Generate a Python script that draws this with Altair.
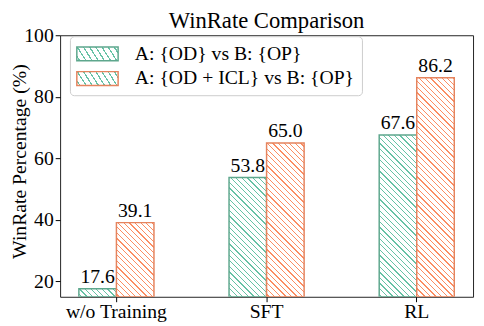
import json
import altair as alt
import pandas as pd

# ---- data ----
categories = ["w/o Training", "SFT", "RL"]
series_names = ["A: {OD} vs B: {OP}", "A: {OD + ICL} vs B: {OP}"]
od_values = [17.6, 53.8, 67.6]
odicl_values = [39.1, 65.0, 86.2]
y_ticks = [20, 40, 60, 80, 100]

# ---- style ----
hatch_colors = ["#66c2a5", "#fc8d62"]
edge_colors = ["#5ea78d", "#e5845e"]
FONT = "Liberation Serif"
W, H = 420, 266
Y_MIN, Y_MAX = 15, 100
PAD_INNER, PAD_OUTER = 0.5, 0.125

rows = []
for s, vals in zip(series_names, [od_values, odicl_values]):
    for c, v in zip(categories, vals):
        rows.append({"category": c, "series": s, "value": v, "label": f"{v:.1f}"})
df = pd.DataFrame(rows)

step = W / (len(categories) - PAD_INNER + 2 * PAD_OUTER)
bar_w = step * (1 - PAD_INNER) / len(series_names)


def hatch(w, h, color, period=5.7, lw=1.3):
    """Diagonal '\\' hatch as a bounding-box linear gradient."""
    L = w + h
    d = w * w + h * h
    x2 = w * L / d
    y2 = 1 - h * L / d
    stops = [{"offset": 0, "color": "white"}]
    c = period / 2
    while c - lw / 2 < L:
        a = round(max(0.0, (c - lw / 2) / L), 5)
        b = round(min(1.0, (c + lw / 2) / L), 5)
        stops += [
            {"offset": a, "color": "white"},
            {"offset": a, "color": color},
            {"offset": b, "color": color},
            {"offset": b, "color": "white"},
        ]
        c += period
    stops.append({"offset": 1, "color": "white"})
    return {"gradient": "linear", "x1": 0, "y1": 1, "x2": round(x2, 5), "y2": round(y2, 5), "stops": stops}


x_enc = alt.X(
    "category:N",
    sort=categories,
    scale=alt.Scale(paddingInner=PAD_INNER, paddingOuter=PAD_OUTER),
    axis=alt.Axis(
        title=None, labelAngle=0, labelFont=FONT, labelFontSize=20, labelColor="black",
        tickSize=5, tickColor="black", labelPadding=0, domain=False, grid=False,
    ),
)
xo_enc = alt.XOffset("series:N", sort=series_names, scale=alt.Scale(paddingInner=0, paddingOuter=0))
y_enc = alt.Y(
    "value:Q",
    scale=alt.Scale(domain=[Y_MIN, Y_MAX], nice=False, zero=False),
    axis=alt.Axis(
        values=y_ticks, format="d", title="WinRate Percentage (%)",
        titleFont=FONT, titleFontSize=20, titleFontWeight="normal", titleColor="black",
        titleX=-35.5, titleY=128, titleAngle=270, titleBaseline="alphabetic", titleAlign="center",
        labelFont=FONT, labelFontSize=20, labelColor="black", labelPadding=2,
        tickSize=5, tickColor="black", domain=False, grid=False,
    ),
)

# legend swatch: 42 x 14 box, hatched via an expression returning a gradient
sw_w, sw_h = 42, 14
legend_fill_expr = (
    f"datum.value === '{series_names[0]}' ? "
    f"{json.dumps(hatch(sw_w, sw_h, hatch_colors[0]))} : "
    f"{json.dumps(hatch(sw_w, sw_h, hatch_colors[1]))}"
)

stroke_enc = alt.Stroke(
    "series:N",
    sort=series_names,
    scale=alt.Scale(domain=series_names, range=edge_colors),
    legend=alt.Legend(
        title=None, orient="none", legendX=10, legendY=1,
        symbolType="M-2.1,-0.7L2.1,-0.7L2.1,0.7L-2.1,0.7Z",
        symbolSize=400, symbolStrokeWidth=1.5, symbolOffset=10,
        symbolFillColor=alt.ExprRef(expr=legend_fill_expr),
        labelOffset=27, labelFont=FONT, labelFontSize=20, labelColor="black", labelLimit=0,
        rowPadding=4, padding=7, fillColor="white", strokeColor="#cccccc", cornerRadius=4,
    ),
)

base = alt.Chart(df)
layers = []
for si, s in enumerate(series_names):
    for c, v in zip(categories, [od_values, odicl_values][si]):
        h = (v - Y_MIN) / (Y_MAX - Y_MIN) * H
        layers.append(
            base.transform_filter(
                (alt.datum.series == s) & (alt.datum.category == c)
            ).mark_bar(
                fill=hatch(bar_w, h, hatch_colors[si]), strokeWidth=1.5, clip=True
            ).encode(
                x=x_enc, xOffset=xo_enc, y=y_enc, y2=alt.Y2(datum=Y_MIN), stroke=stroke_enc
            )
        )

labels = base.mark_text(
    font=FONT, fontSize=20, color="black", baseline="alphabetic", dy=-6
).encode(x=x_enc, xOffset=xo_enc, y=y_enc, text="label:N")

chart = alt.layer(*layers, labels).properties(
    width=W,
    height=H,
    title=alt.TitleParams(
        "WinRate Comparison", font=FONT, fontSize=23, fontWeight="normal", color="black",
        anchor="middle", frame="group", baseline="alphabetic", offset=5, dy=31,
    ),
    autosize=alt.AutoSizeParams(type="none"),
    padding={"left": 53, "top": 25, "right": 3, "bottom": 27},
).configure_view(stroke="#222222", strokeWidth=1)

chart.save("out.html", embed_options={"renderer": "svg", "actions": False})
